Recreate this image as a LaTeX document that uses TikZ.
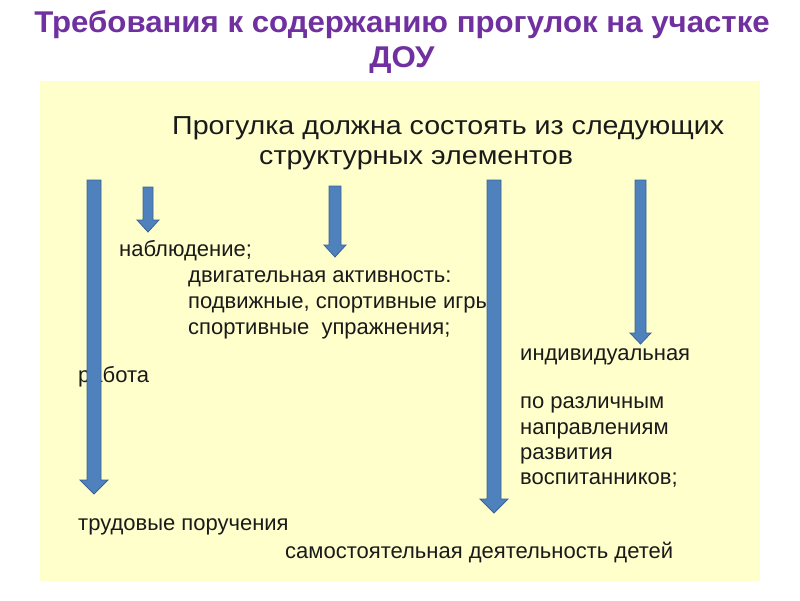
\documentclass[tikz,border=0pt]{standalone}
\usepackage{fontspec}
\setmainfont{Liberation Sans}
\definecolor{ttl}{HTML}{7030A0}
\definecolor{bg}{HTML}{FFFFCC}
\definecolor{arf}{HTML}{4F81BD}
\definecolor{ard}{HTML}{3A6496}
\definecolor{txt}{HTML}{1A1A1A}
\newcommand{\blockarr}[6]{%
 \filldraw[arrowbox] ({#1-#2},#3) -- ({#1+#2},#3) -- ({#1+#2},#4) -- ({#1+#6},#4) -- (#1,#5) -- ({#1-#6},#4) -- ({#1-#2},#4) -- cycle;}
\begin{document}
\begin{tikzpicture}[x=1pt,y=-1pt,
  arrowbox/.style={fill=arf,draw=ard,line width=0.8pt,line join=miter},
  ttltext/.style={inner sep=0,anchor=base,text=ttl,font=\fontsize{30}{34}\selectfont\bfseries},
  subtext/.style={inner sep=0,anchor=base west,text=txt,font=\fontsize{26}{30}\selectfont},
  bodytext/.style={inner sep=0,anchor=base west,text=txt,font=\fontsize{22}{26}\selectfont}]
\useasboundingbox (0,0) rectangle (800,600);
\fill[white] (0,0) rectangle (800,600);
\fill[bg] (40,81) rectangle (760,581);
\node[ttltext] (t1) at (402,32) {\scalebox{1.04}[1]{Требования к содержанию прогулок на участке}};
\node[ttltext] (t2) at (402,67) {\scalebox{1.04}[1]{ДОУ}};
\node[subtext] (s1) at (172,134) {\scalebox{1.1}[1]{Прогулка должна состоять из следующих}};
\node[subtext] (s2) at (259,164) {\scalebox{1.1}[1]{структурных элементов}};
\node[bodytext] (b1) at (119,256) {наблюдение;};
\node[bodytext] (b2) at (188,282) {двигательная активность:};
\node[bodytext] (b3) at (188,308) {подвижные, спортивные игры};
\node[bodytext] (b4) at (188,334) {спортивные\ \ упражнения;};
\node[bodytext] (b5) at (520,360) {индивидуальная};
\node[bodytext] (b6) at (78,382) {работа};
\node[bodytext] (b7) at (520,408) {по различным};
\node[bodytext] (b8) at (520,434) {направлениям};
\node[bodytext] (b9) at (520,459) {развития};
\node[bodytext] (b10) at (520,484) {воспитанников;};
\node[bodytext] (b11) at (78,530) {трудовые поручения};
\node[bodytext] (b12) at (285,558) {самостоятельная деятельность детей};
\blockarr{94}{7}{180}{480}{494}{14}
\blockarr{148}{5}{187}{220}{232}{11}
\blockarr{335}{6}{186}{245}{257}{11}
\blockarr{494}{7}{180}{499}{513}{14}
\blockarr{640.5}{5.5}{180}{333}{344}{10.5}
\end{tikzpicture}
\end{document}
